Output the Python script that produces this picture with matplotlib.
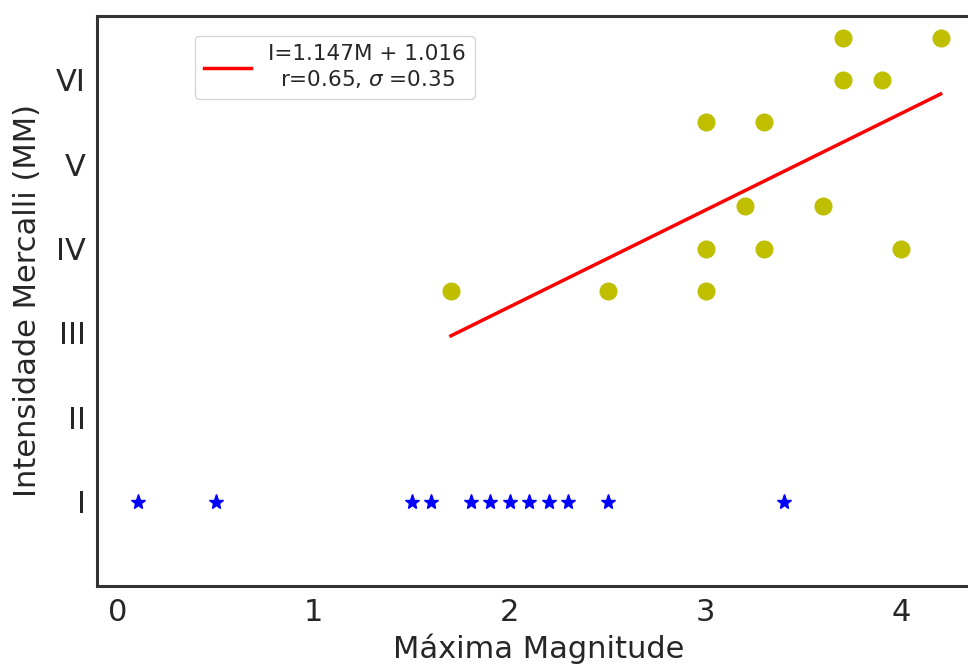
import numpy as np
import matplotlib
matplotlib.use('Agg')
import matplotlib.pyplot as plt

# felt events (magnitude, intensity)
mag_felt = [1.7, 2.5, 3.0, 3.0, 3.0, 3.2, 3.3, 3.3, 3.6, 3.7, 3.7, 3.9, 4.0, 4.2]
int_felt = [3.5, 3.5, 3.5, 4.0, 5.5, 4.5, 4.0, 5.5, 4.5, 6.5, 6.0, 6.0, 4.0, 6.5]

# events with intensity I
mag_low = [0.1, 0.5, 1.5, 1.6, 1.8, 1.9, 2.0, 2.1, 2.2, 2.3, 2.5, 3.4]
int_low = [1] * len(mag_low)

slope = 1.147
intercept = 1.016
fit_label = 'I=1.147M + 1.016\nr=0.65, $\\sigma$ =0.35'

roman = ['I', 'II', 'III', 'IV', 'V', 'VI']

txt = '#262626'
plt.rcParams['text.color'] = txt
plt.rcParams['axes.labelcolor'] = txt
plt.rcParams['xtick.color'] = txt
plt.rcParams['ytick.color'] = txt

fig = plt.figure(figsize=(9.68, 6.7), dpi=100)
ax = fig.add_axes([0.1002, 0.1254, 0.912, 0.851])

xfit = np.array([min(mag_felt), max(mag_felt)])
ax.plot(xfit, slope * xfit + intercept, 'r', lw=2.5, label=fit_label)
ax.plot(mag_felt, int_felt, 'yo', markersize=12)
ax.plot(mag_low, int_low, 'b*', markersize=11)

ax.set_xlim(-0.107, 4.4)
ax.set_ylim(0, 6.76)
ax.set_xticks([0, 1, 2, 3, 4])
ax.set_yticks(range(1, 7))
ax.set_yticklabels(roman)
ax.tick_params(length=0, labelsize=22)
ax.tick_params(axis='y', pad=8)
ax.tick_params(axis='x', pad=9)
ax.set_xlabel('Máxima Magnitude', fontsize=22, labelpad=4)
ax.set_ylabel('Intensidade Mercalli (MM)', fontsize=22, labelpad=10)

for s in ax.spines.values():
    s.set_linewidth(2.2)
    s.set_color('#333333')

leg = ax.legend(loc='upper left', bbox_to_anchor=(0.111, 0.965), borderaxespad=0,
                fontsize=15.5, handlelength=2.2)
for t in leg.get_texts():
    t.set_multialignment('center')

fig.savefig('out.png', dpi=100)
